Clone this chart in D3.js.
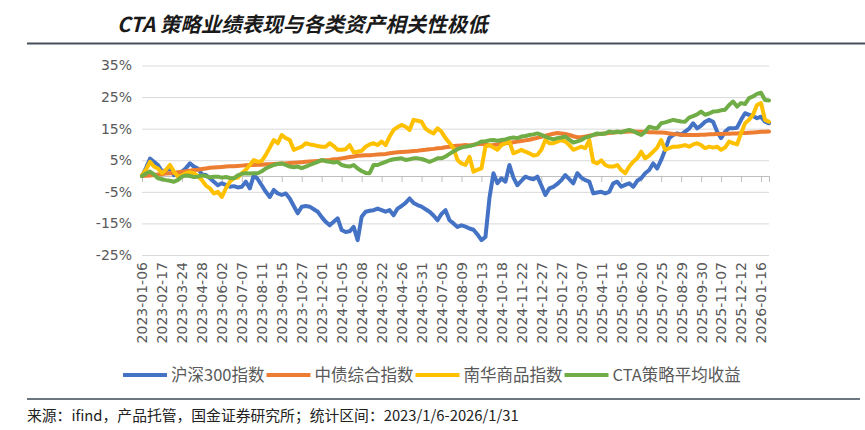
<!DOCTYPE html>
<html lang="zh">
<head>
<meta charset="utf-8">
<title>CTA 策略业绩表现与各类资产相关性极低</title>
<script src="https://cdn.jsdelivr.net/npm/d3@7"></script>
<style>
  body { margin: 0; background: #fff; }
  svg { display: block; }
  .y.axis text, .x.labels text {
    font-family: "DejaVu Sans", sans-serif;
    font-size: 14px;
    fill: #595959;
  }
  .grid line { stroke: #d9d9d9; stroke-width: 1; }
  .zero line, .zero path { stroke: #bfbfbf; stroke-width: 1; }
  .legend text {
    font-family: "Noto Sans CJK SC", sans-serif;
    font-size: 16.5px;
    fill: #595959;
  }
</style>
</head>
<body>
<script>
// weekly closes from 2023-01-06, every 5th week labelled
var tickLabels = [
  "2023-01-06", "2023-02-17", "2023-03-24", "2023-04-28", "2023-06-02", "2023-07-07",
  "2023-08-11", "2023-09-15", "2023-10-27", "2023-12-01", "2024-01-05", "2024-02-08",
  "2024-03-22", "2024-04-26", "2024-05-31", "2024-07-05", "2024-08-09", "2024-09-13",
  "2024-10-18", "2024-11-22", "2024-12-27", "2025-01-27", "2025-03-07", "2025-04-11",
  "2025-05-16", "2025-06-20", "2025-07-25", "2025-08-29", "2025-09-30", "2025-11-07",
  "2025-12-12", "2026-01-16"
];
var labelStep = 5;

// cumulative return, %
var hs300 = [
  0, 2.5, 5.5, 4.5, 3.5, 1.5, 1.8, 2.4, 0.3, 0.8,
  1.4, 2.5, 4, 3, 2.4, 0.5, 0.3, -0.7, -1.8, -2.9,
  -2.3, -2.8, -3.4, -3.2, -3.6, -3.4, -1.8, -3.9, 0.3, -1.0,
  -3.0, -5, -6.6, -4.4, -5.5, -6, -5.5, -7.1, -9.5, -11.8,
  -9.7, -9.5, -9.7, -10.5, -11.3, -13, -14.5, -15.6, -14.5, -13.4,
  -17.1, -17.7, -17.5, -16.1, -20.3, -12.9, -11.3, -11, -10.8, -10.3,
  -10.8, -11.3, -10.8, -12.4, -10.3, -9.5, -8.5, -7.1, -8.5, -9.2,
  -9.7, -10.5, -11.3, -12.5, -14, -12, -10.8, -14, -15, -16.1,
  -15.6, -16, -16.6, -17, -18.5, -20.3, -19.3, -7, 0.9, -2.3,
  -0.7, -1.8, 3.5, -0.5, -2.9, -1.5, -0.2, -0.7, -1, -0.2,
  -3, -6, -3.9, -3.4, -2.5, -1.3, 0.3, -1, -2.3, 0.9,
  -0.5, -1.3, -1.8, -5.5, -5.2, -5, -5.5, -5, -2.3, -1.8,
  -3.4, -2.8, -2.3, -3.4, -1.5, -0.7, 0.9, 1.9, 4, 2.4,
  5.1, 8.3, 12, 13, 13.5, 13, 14.1, 15, 16.7, 15.1,
  16, 17.2, 17.8, 17.2, 14.1, 12, 14, 15.1, 15.1, 15.3,
  17.8, 19.9, 19.4, 19, 18.3, 18.8, 17.2, 16.7
];

var bond = [
  0, 0.1, 0.2, 0.3, 0.5, 0.6, 0.8, 0.9, 1.0, 1.2,
  1.4, 1.5, 1.7, 1.9, 2.0, 2.2, 2.4, 2.6, 2.7, 2.8,
  2.9, 3.0, 3.1, 3.1, 3.2, 3.3, 3.4, 3.5, 3.5, 3.6,
  3.6, 3.7, 3.7, 3.8, 3.9, 4.0, 4.0, 4.1, 4.2, 4.3,
  4.4, 4.5, 4.6, 4.7, 4.8, 4.9, 5.0, 5.1, 5.3, 5.4,
  5.6, 5.8, 6.0, 6.2, 6.4, 6.5, 6.6, 6.6, 6.7, 6.8,
  6.9, 7.0, 7.2, 7.4, 7.5, 7.6, 7.7, 7.8, 7.9, 8.0,
  8.2, 8.3, 8.5, 8.6, 8.8, 8.9, 9.1, 9.3, 9.5, 9.6,
  9.7, 9.8, 9.7, 9.9, 10.1, 10.2, 10.0, 9.7, 9.8, 10.0,
  10.2, 10.4, 10.5, 10.7, 10.9, 11.1, 11.3, 11.5, 11.8, 12.1,
  12.4, 12.8, 13.1, 13.4, 13.6, 13.5, 13.3, 13.0, 12.6, 12.3,
  12.3, 12.5, 12.8, 13.0, 13.2, 13.4, 13.5, 13.6, 13.8, 13.9,
  14.0, 14.0, 14.1, 14.1, 14.0, 14.0, 14.0, 13.9, 13.9, 13.8,
  13.8, 13.7, 13.5, 13.3, 13.2, 13.1, 13.0, 13.0, 13.0, 13.0,
  13.1, 13.1, 13.2, 13.2, 13.3, 13.3, 13.4, 13.4, 13.5, 13.5,
  13.6, 13.6, 13.7, 13.8, 13.9, 14.0, 14.0, 14.1
];

var nanhua = [
  0.3, 2.0, 4.5, 3.0, 2.4, 0.9, 2.0, 3.5, 1.4, -0.2,
  0.2, 0.9, 1.2, 0.9, 0, -1.3, -3.0, -3.9, -5.5, -5.0,
  -6.6, -3.9, -1.8, -0.7, -0.5, 0.9, 2.0, 3.5, 5.1, 4.5,
  4.8, 6.7, 9.0, 11.4, 10.4, 13.0, 12.0, 11.4, 8.3, 8.8,
  9.3, 10.4, 10.0, 9.8, 9.5, 9.3, 9.3, 10.4, 9.5, 8.3,
  8.3, 8.5, 9.8, 7.5, 7.7, 8.0, 9.3, 10.0, 10.4, 9.8,
  10.9, 9.8, 12.5, 14.6, 15.5, 16.2, 15.6, 14.6, 17.8, 17.5,
  17.2, 15.0, 14.1, 13.5, 15.1, 14.0, 12.0, 10.5, 8.8, 5.1,
  4.0, 3.5, 6.1, 1.4, 2.0, 2.4, 9.3, 9.8, 9.0, 8.3,
  9.8, 10.4, 10.9, 7.2, 7.7, 8.3, 7.7, 7.2, 6.5, 6.7,
  8.3, 11.4, 10.4, 10.4, 10.9, 11.4, 10.9, 9.8, 8.3, 8.8,
  9.3, 8.8, 11.4, 4.5, 4.0, 5.0, 3.5, 3.0, 3.0, 3.5,
  1.9, 0.9, 3.0, 4.5, 5.6, 7.7, 5.6, 6.5, 7.7, 9.0,
  11.4, 8.3, 8.8, 9.3, 9.3, 9.5, 9.8, 9.3, 10.0, 10.4,
  9.8, 8.8, 9.3, 9.0, 9.3, 8.3, 9.0, 10.9, 10.4, 10.0,
  13.5, 16.7, 17.8, 19.4, 22.5, 23.1, 17.8, 17.2
];

var cta = [
  0, 0.8, 1.4, 0.5, -0.7, -1.0, -1.3, -1.5, -1.8, -1.2,
  -0.2, 0.2, 0, -0.3, -0.2, 0.2, 0, -0.4, -0.2, -0.2,
  -0.5, -0.3, -0.6, -0.7, 0.2, 0.7, 0.9, 0.8, 0.9, 0.9,
  1.5, 2.4, 3.0, 3.5, 3.8, 4.0, 3.5, 3.0, 2.8, 3.0,
  2.5, 3.0, 3.5, 4.0, 4.5, 5.1, 4.7, 4.5, 4.3, 4.5,
  3.5, 3.2, 3.0, 3.5, 2.4, 1.6, 1.0, 0.9, 3.5, 3.5,
  4.0, 4.5, 5.0, 5.3, 5.5, 5.6, 5.1, 5.3, 5.6, 5.6,
  5.4, 5.0, 4.5, 5.0, 5.6, 5.6, 6.2, 7.0, 7.8, 8.5,
  9.0, 9.3, 9.5, 9.8, 10.3, 10.9, 11.0, 11.3, 11.4, 11.2,
  11.4, 11.6, 12.0, 12.2, 12.0, 12.5, 12.7, 13.0, 13.2, 13.5,
  13.0, 12.5, 12.0, 11.6, 12.0, 12.2, 12.5, 11.5, 10.6, 11.0,
  11.4, 12.2, 12.5, 13.0, 13.5, 13.3, 13.5, 14.1, 13.8, 14.1,
  13.8, 14.3, 14.6, 14.2, 13.6, 13.0, 14.0, 15.6, 15.3, 15.1,
  16.7, 17.0, 17.4, 17.8, 17.5, 17.3, 17.2, 18.5, 19.0, 19.5,
  20.4, 19.4, 19.8, 20.4, 20.5, 20.8, 21.0, 22.5, 23.6, 22.0,
  23.1, 22.8, 24.7, 25.2, 26.0, 26.4, 24.1, 23.9
];

var seriesNames = ["沪深300指数", "中债综合指数", "南华商品指数", "CTA策略平均收益"];
var seriesColors = ["#4472C4", "#ED7D31", "#FFC000", "#70AD47"];
var seriesData = [hs300, bond, nanhua, cta];
var yTicks = [-25, -15, -5, 5, 15, 25, 35];

var w = 865, h = 430;
var plotLeft = 142, plotRight = 769, plotTop = 65.5, plotBottom = 255;

var svg = d3.select("body").append("svg")
  .attr("width", w)
  .attr("height", h);

// title + rules
svg.append("text")
  .attr("x", 117)
  .attr("y", 32)
  .attr("font-family", "Noto Sans CJK SC, sans-serif")
  .attr("font-size", 20.5)
  .attr("font-weight", "bold")
  .attr("font-style", "italic")
  .attr("fill", "#1a1a1a")
  .text("CTA 策略业绩表现与各类资产相关性极低");

svg.append("line")
  .attr("x1", 27).attr("x2", w)
  .attr("y1", 43.5).attr("y2", 43.5)
  .attr("stroke", "#44515c")
  .attr("stroke-width", 2);

var n = hs300.length;
var xScale = d3.scaleLinear().domain([0, n - 1]).range([plotLeft, plotRight]);
var yScale = d3.scaleLinear().domain([-25, 35]).range([plotBottom, plotTop]);

// gridlines
svg.append("g")
  .attr("class", "grid")
  .attr("transform", "translate(" + plotLeft + ",0)")
  .call(d3.axisLeft(yScale).tickValues(yTicks).tickSize(-(plotRight - plotLeft)).tickFormat(""))
  .call(function(g) { g.select(".domain").remove(); });

// y labels
svg.append("g")
  .attr("class", "y axis")
  .attr("transform", "translate(" + (plotLeft - 10) + ",0)")
  .call(d3.axisLeft(yScale).tickValues(yTicks).tickSize(0).tickPadding(0)
    .tickFormat(function(d) { return d + "%"; }))
  .call(function(g) { g.select(".domain").remove(); });

// category axis across zero
var tickIdx = d3.range(0, n, labelStep);
svg.append("g")
  .attr("class", "zero")
  .attr("transform", "translate(0," + yScale(0) + ")")
  .call(d3.axisBottom(xScale).tickValues(tickIdx.concat([n - 1])).tickSize(6).tickSizeOuter(0).tickFormat(""));

// rotated date labels at the bottom
var labelAxis = d3.axisBottom(xScale)
  .tickValues(tickLabels.map(function(d, i) { return i * labelStep; }))
  .tickSize(0)
  .tickFormat(function(d) { return tickLabels[d / labelStep]; });

svg.append("g")
  .attr("class", "x labels")
  .attr("transform", "translate(0," + (plotBottom + 7) + ")")
  .call(labelAxis)
  .call(function(g) { g.select(".domain").remove(); })
  .selectAll("text")
  .attr("text-anchor", "end")
  .attr("transform", "rotate(-90)")
  .attr("x", 0)
  .attr("y", 0)
  .attr("dy", "0.35em");

// series lines
var line = d3.line()
  .x(function(d, i) { return xScale(i); })
  .y(function(d) { return yScale(d); });

svg.append("g")
  .selectAll("path")
  .data(seriesData)
  .enter()
  .append("path")
  .attr("d", line)
  .attr("fill", "none")
  .attr("stroke", function(d, i) { return seriesColors[i]; })
  .attr("stroke-width", 4)
  .attr("stroke-linejoin", "round")
  .attr("stroke-linecap", "round");

// legend
var legend = svg.append("g").attr("class", "legend");
var lx = 123, ly = 375;
seriesNames.forEach(function(name, i) {
  legend.append("line")
    .attr("x1", lx).attr("x2", lx + 44)
    .attr("y1", ly).attr("y2", ly)
    .attr("stroke", seriesColors[i])
    .attr("stroke-width", 4);
  var t = legend.append("text")
    .attr("x", lx + 48)
    .attr("y", ly)
    .attr("dy", "0.35em")
    .text(name);
  lx = lx + 48 + t.node().getComputedTextLength() + 2;
});

// source note
svg.append("line")
  .attr("x1", 27).attr("x2", 860)
  .attr("y1", 399).attr("y2", 399)
  .attr("stroke", "#6b7680")
  .attr("stroke-width", 2);

svg.append("text")
  .attr("x", 27)
  .attr("y", 421)
  .attr("font-family", "Noto Sans CJK SC, sans-serif")
  .attr("font-size", 14.8)
  .attr("fill", "#222")
  .text("来源：ifind，产品托管，国金证券研究所；统计区间：2023/1/6-2026/1/31");
</script>
</body>
</html>
